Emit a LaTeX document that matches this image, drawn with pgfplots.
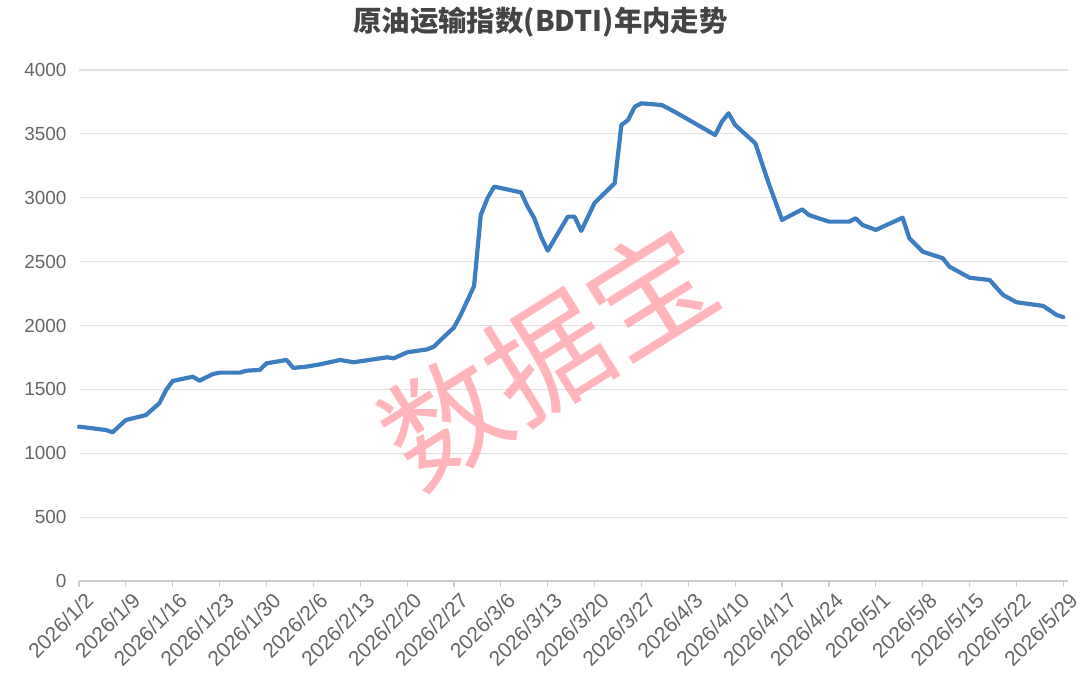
\documentclass[border=0pt]{standalone}
\usepackage{fontspec}
\usepackage{pgfplots}
\pgfplotsset{compat=1.18}
\setmainfont{Liberation Sans}
\newfontfamily\cjk{Noto Sans CJK SC}
\definecolor{bdti}{HTML}{3C7EC0}
\definecolor{gridc}{HTML}{E0E0E0}
\definecolor{axc}{HTML}{CCCCCC}
\definecolor{tickc}{HTML}{666666}
\definecolor{titlec}{HTML}{444444}
\definecolor{wm}{HTML}{FFA3AA}
\pgfplotstableread{
day val
0 1208
4 1182
5 1164
7 1260
10 1299
12 1391
13 1495
14 1566
17 1599
18 1568
20 1620
21 1631
24 1631
25 1646
27 1652
28 1704
31 1730
32 1668
34 1678
36 1696
39 1730
41 1712
46 1751
47 1743
49 1790
52 1813
53 1834
54 1886
56 1985
57 2082
59 2309
60 2865
61 2996
62 3087
66 3042
67 2930
68 2839
69 2695
70 2586
73 2852
74 2852
75 2740
77 2960
80 3113
81 3569
82 3609
83 3713
84 3739
87 3726
88 3700
90 3642
95 3491
96 3595
97 3661
98 3569
101 3426
103 3113
105 2826
108 2909
109 2865
110 2847
112 2813
115 2813
116 2839
117 2787
119 2748
123 2844
124 2683
126 2578
129 2526
130 2460
133 2374
136 2356
138 2239
140 2182
144 2153
146 2082
147 2065
}\bdtidata
\begin{document}
\begin{tikzpicture}[x=1bp,y=1bp]
\path[use as bounding box] (0,0) rectangle (1080,685);
\begin{axis}[
  at={(79bp,104bp)}, anchor=south west,
  scale only axis, width=989bp, height=511bp,
  xmin=0, xmax=147.7, ymin=0, ymax=4000,
  xtick={0,7,...,147},
  xticklabels={2026/1/2,2026/1/9,2026/1/16,2026/1/23,2026/1/30,2026/2/6,2026/2/13,2026/2/20,2026/2/27,2026/3/6,2026/3/13,2026/3/20,2026/3/27,2026/4/3,2026/4/10,2026/4/17,2026/4/24,2026/5/1,2026/5/8,2026/5/15,2026/5/22,2026/5/29},
  ytick={0,500,...,4000},
  ymajorgrids,
  major grid style={color=gridc, line width=1.2bp},
  axis x line*=bottom, axis y line*=left,
  x axis line style={color=axc, line width=1.2bp, -},
  y axis line style={draw=none},
  ytick style={draw=none},
  xtick style={color=axc, line width=1.2bp},
  tick align=outside,
  major tick length=6bp,
  /pgf/number format/assume math mode=true,
  /pgf/number format/1000 sep={},
  yticklabel style={font=\fontsize{19}{19}\selectfont, color=tickc, xshift=-3bp},
  xticklabel style={font=\fontsize{21}{21}\selectfont, color=tickc, rotate=45, anchor=north east, xshift=4bp, yshift=-3bp},
  title={\cjk\bfseries 原油运输指数(BDTI)年内走势},
  title style={font=\fontsize{28.5}{28.5}\selectfont, color=titlec, at={(0.5,1)}, anchor=center, xshift=-33bp, yshift=42bp},
  clip=false,
]
\node[rotate=32, text=wm, opacity=0.8, font=\cjk\fontsize{122}{122}\selectfont, inner sep=0pt] at (axis cs:70,1760) {数据宝};
\addplot[color=bdti, line width=4.2bp, line join=round, line cap=round] table[x=day, y=val] {\bdtidata};
\end{axis}
\end{tikzpicture}
\end{document}
